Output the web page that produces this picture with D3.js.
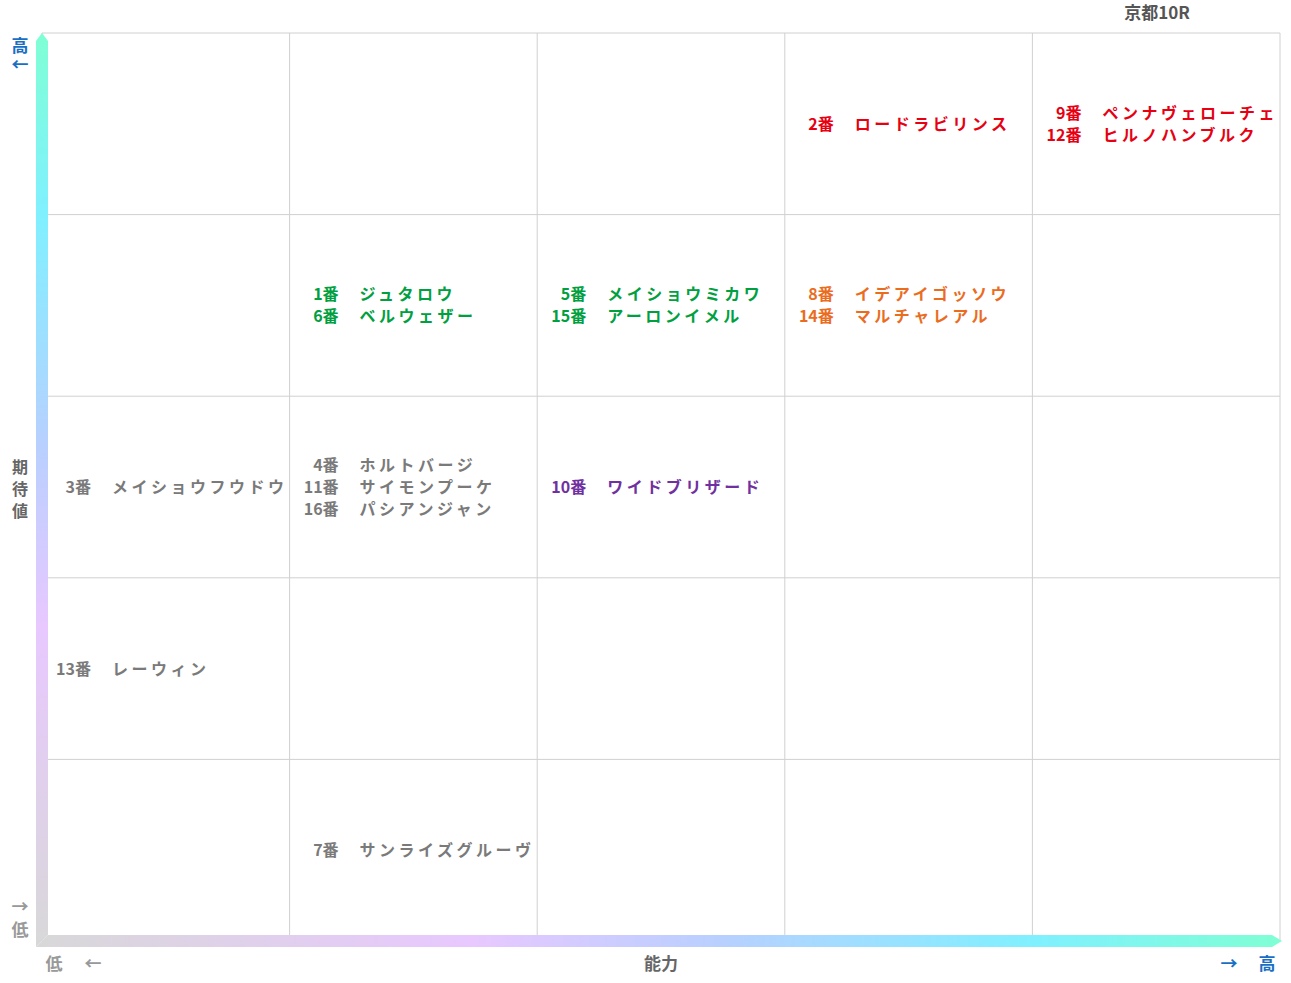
<!DOCTYPE html><html><head><meta charset="utf-8"><script src="https://cdn.jsdelivr.net/npm/d3@7"></script>
<style>body{margin:0;background:#fff}</style></head><body><svg id="c" width="1291" height="983"></svg>
<script>
const title="京都10R";
const nums=["2番","9番","12番","1番","6番","5番","15番","8番","14番","3番","4番","11番","16番","10番","13番","7番"];
const names=["ロードラビリンス","ペンナヴェローチェ","ヒルノハンブルク","ジュタロウ","ベルウェザー","メイショウミカワ","アーロンイメル","イデアイゴッソウ","マルチャレアル","メイショウフウドウ","ホルトバージ","サイモンプーケ","パシアンジャン","ワイドブリザード","レーウィン","サンライズグルーヴ"];
const cellCol=[3,4,4,1,1,2,2,3,3,0,1,1,1,2,0,1];
const cellRow=[0,0,0,1,1,1,1,1,1,2,2,2,2,2,3,4];
const colors=["#e60012","#e60012","#e60012","#00a040","#00a040","#00a040","#00a040","#ea6d1f","#ea6d1f","#7a7a7a","#7a7a7a","#7a7a7a","#7a7a7a","#7030a0","#7a7a7a","#7a7a7a"];
const svg=d3.select("#c");
const x=d3.scaleLinear().domain([0,5]).range([42,1280]);
const y=d3.scaleLinear().domain([0,5]).range([33,941]);
const defs=svg.append("defs");
const gv=defs.append("linearGradient").attr("id","gv").attr("x1",0).attr("y1",0).attr("x2",0).attr("y2",1);
[["0","#7fffd4"],["0.2","#80f0ff"],["0.45","#b8d0ff"],["0.65","#e8c8ff"],["1","#d8d8d8"]].forEach(s=>gv.append("stop").attr("offset",s[0]).attr("stop-color",s[1]));
const gh=defs.append("linearGradient").attr("id","gh").attr("x1",0).attr("y1",0).attr("x2",1).attr("y2",0);
[["0","#d8d8d8"],["0.35","#e8c8ff"],["0.55","#b8d0ff"],["0.8","#80f0ff"],["1","#7fffd4"]].forEach(s=>gh.append("stop").attr("offset",s[0]).attr("stop-color",s[1]));
svg.append("g").selectAll("line").data(d3.range(6)).join("line").attr("x1",d=>x(d)).attr("x2",d=>x(d)).attr("y1",y(0)).attr("y2",y(5)).attr("stroke","#d0d0d0");
svg.append("g").selectAll("line").data(d3.range(6)).join("line").attr("y1",d=>y(d)).attr("y2",d=>y(d)).attr("x1",x(0)).attr("x2",x(5)).attr("stroke","#d0d0d0");
svg.append("path").attr("d",`M36,${y(0)+8} L42,${y(0)} L48,${y(0)+8} L48,${y(5)-6} L36,${y(5)+6} Z`).attr("fill","url(#gv)");
svg.append("path").attr("d",`M36,${y(5)+6} L48,${y(5)-6} L${x(5)-8},${y(5)-6} L${x(5)+2},${y(5)} L${x(5)-8},${y(5)+6} Z`).attr("fill","url(#gh)");
const ff="'Noto Sans CJK JP','Noto Sans',sans-serif";
const T=(tx,ty,s,c,a,fs)=>svg.append("text").attr("x",tx).attr("y",ty).text(s).attr("fill",c).attr("font-family",ff).attr("font-weight","bold").attr("font-size",fs||17).attr("text-anchor",a||"start");
T(1157,19,title,"#555","middle");
T(20,52,"高","#1a6fc4","middle");T(20,71,"←","#1a6fc4","middle");
["期","待","値"].forEach((c,i)=>T(20,473+i*22,c,"#666","middle",16));
T(20,913,"→","#999","middle");T(20,936,"低","#999","middle");
T(54,970,"低","#999","middle");T(93,970,"←","#999","middle");
T(661,970,"能力","#666","middle");
T(1229,970,"→","#1a6fc4","middle");T(1267,970,"高","#1a6fc4","middle");
const idx=d3.range(nums.length);
const groups=d3.group(idx,i=>cellCol[i]+"_"+cellRow[i]);
groups.forEach(list=>{
  list.forEach((i,k)=>{
    const cy=(y(cellRow[i])+y(cellRow[i]+1))/2+6+(k-(list.length-1)/2)*22;
    T(x(cellCol[i])+49,cy,nums[i],colors[i],"end",16);
    T(x(cellCol[i])+70,cy,names[i],colors[i],"start",16).attr("letter-spacing","3.5px");
  });
});
</script></body></html>
